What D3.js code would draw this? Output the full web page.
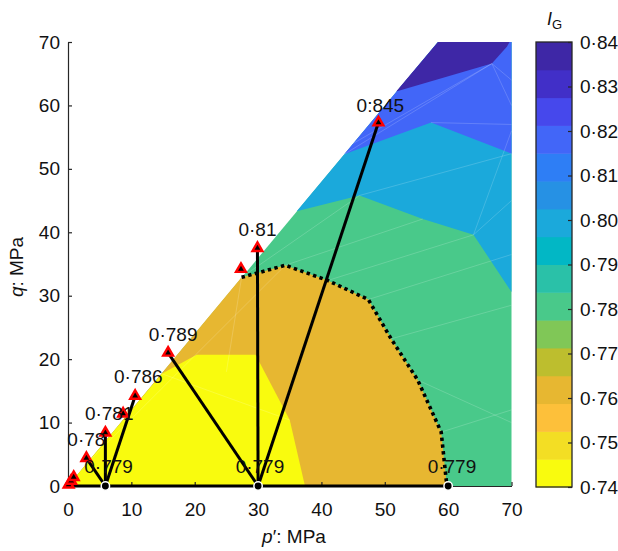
<!DOCTYPE html>
<html><head><meta charset="utf-8">
<script src="https://cdn.jsdelivr.net/npm/d3@7"></script>
<style>body{margin:0;background:#fff}svg{display:block;font-family:Arial,"Liberation Sans",sans-serif}</style>
</head><body><svg id="c" width="618" height="551"></svg>
<script>
// ---------- data ----------
const pTicks = [0, 10, 20, 30, 40, 50, 60, 70];
const qTicks = [0, 10, 20, 30, 40, 50, 60, 70];
const cbarTicks = [0.74, 0.75, 0.76, 0.77, 0.78, 0.79, 0.80, 0.81, 0.82, 0.83, 0.84];
const levels = [0.74, 0.74625, 0.7525, 0.75875, 0.765, 0.77125, 0.7775, 0.78375, 0.79,
                0.79625, 0.8025, 0.80875, 0.815, 0.82125, 0.8275, 0.83375, 0.84];
const bandColors = ["#F9FB0E", "#F3DE24", "#FDC03A", "#E7B731", "#BDBE2E", "#80C757",
                    "#49C98A", "#2AC1A8", "#02B7C5", "#1BA9DB", "#2691E4", "#2E7EF5",
                    "#4266F8", "#4648EC", "#412FC8", "#3E27A6"];
// filled contour regions [p', q] with band index (painted in order)
const regionHull = [[0, 0], [58.4, 70], [70, 70], [70, 0]];
const region076 = [[0, 0], [27.4, 32.9], [34.3, 34.8], [41, 32.4], [47.4, 29.4], [51, 23.2], [55.2, 16.7], [58.9, 8.5], [59.8, 0]];
const region074 = [[0, 0], [14.8, 17.7], [20.3, 20.7], [29.6, 20.7], [35, 10.4], [37.4, 0]];
const region080 = [[36.1, 43.3], [46, 45.8], [56, 42.1], [64, 39.6], [70, 30.6], [70, 70], [58.4, 70]];
const region082 = [[43.6, 52.3], [57.3, 57.3], [70, 52.4], [70, 70], [58.4, 70]];
const region084 = [[51.8, 62.2], [66.9, 66.6], [69.3, 69.3], [69.7, 70], [58.4, 70]];
const regions = [
  {pts: regionHull, band: 6}, {pts: region076, band: 3}, {pts: region074, band: 0},
  {pts: region080, band: 9}, {pts: region082, band: 12}, {pts: region084, band: 15}
];
// faint triangulation edges
const meshEdges = [
  [[27.4, 32.9], [46, 45.8]], [[34.3, 34.8], [56, 42.1]], [[41, 32.4], [64, 39.6]],
  [[47.4, 29.4], [70, 36.5]], [[51, 23.2], [70, 28.5]], [[55.2, 16.7], [70, 10]],
  [[58.9, 8.5], [70, 12]], [[64, 39.6], [70, 45]], [[64, 39.6], [70, 56]],
  [[46, 45.8], [70, 52.4]], [[43.6, 52.3], [66.9, 66.6]], [[45, 54], [66.9, 66.6]],
  [[66.9, 66.6], [70, 60]], [[66.9, 66.6], [70, 64]], [[57.3, 57.3], [70, 57]],
  [[14.8, 17.7], [35, 10.4]], [[3, 3.6], [34.3, 34.8]], [[27.4, 32.9], [25, 18]]
];
// stress paths
const paths = [
  [[0, 0], [60, 0]],
  [[5.9, 0], [5.9, 8.4]], [[5.9, 0], [2.9, 4.4]], [[5.9, 0], [10.6, 14.2]],
  [[30, 0], [15.8, 21]], [[30, 0], [29.9, 37.5]], [[30, 0], [49, 57.3]]
];
const dottedLine = region076.slice(1);
const failurePts = [[0.1, 0.2], [0.5, 0.8], [0.9, 1.4], [2.9, 4.4], [5.9, 8.4], [8.7, 11.4],
                    [10.6, 14.2], [15.8, 21], [27.3, 34.2], [29.9, 37.5], [49, 57.3]];
const startPts = [[5.9, 0], [30, 0], [60, 0]];
const labels = [
  {t: "0·779", p: 6.4, q: 3.15}, {t: "0·78", p: 2.9, q: 7.4}, {t: "0·781", p: 6.5, q: 11.45},
  {t: "0·786", p: 11.1, q: 17.3}, {t: "0·789", p: 16.6, q: 24.0}, {t: "0·779", p: 30.3, q: 3.2},
  {t: "0·779", p: 60.6, q: 3.15}, {t: "0·81", p: 29.9, q: 40.5}, {t: "0:845", p: 49.3, q: 60.1}
];

// ---------- drawing ----------
const svg = d3.select("#c");
const x = d3.scaleLinear().domain([0, 70]).range([68, 511.5]);
const y = d3.scaleLinear().domain([0, 70]).range([486, 42]);
const cy = d3.scaleLinear().domain([0.74, 0.84]).range([487, 42]);
const line = d3.line().x(d => x(d[0])).y(d => y(d[1]));
const FS = 19;

const gR = svg.append("g");
regions.forEach(r => {
  gR.append("path").attr("d", line(r.pts) + "Z").attr("fill", bandColors[r.band]).attr("stroke", "none");
});
gR.selectAll("line.mesh").data(meshEdges).join("line")
  .attr("x1", d => x(d[0][0])).attr("y1", d => y(d[0][1]))
  .attr("x2", d => x(d[1][0])).attr("y2", d => y(d[1][1]))
  .attr("stroke", "#fff").attr("stroke-opacity", 0.25).attr("stroke-width", 0.7);

// axes
const axColor = "#262626";
const gx = svg.append("g").attr("transform", "translate(0,486)")
  .call(d3.axisBottom(x).tickValues(pTicks).tickSizeInner(-4).tickSizeOuter(0).tickPadding(16.5));
const gy = svg.append("g").attr("transform", "translate(68,0)")
  .call(d3.axisLeft(y).tickValues(qTicks).tickSizeInner(-4).tickSizeOuter(0).tickPadding(8));
[gx, gy].forEach(g => {
  g.select(".domain").attr("stroke", axColor).attr("stroke-width", 1.2);
  g.selectAll(".tick line").attr("stroke", axColor).attr("stroke-width", 1.2);
  g.selectAll("text").attr("font-size", FS).attr("fill", "#111").attr("font-family", "Arial, 'Liberation Sans', sans-serif");
});

// stress paths
svg.append("g").selectAll("path").data(paths).join("path")
  .attr("d", d => line(d)).attr("fill", "none").attr("stroke", "#000").attr("stroke-width", 3);
svg.append("path").attr("d", line(dottedLine)).attr("fill", "none")
  .attr("stroke", "#000").attr("stroke-width", 3.6).attr("stroke-dasharray", "3.4,3.4");

// markers
const tri = d3.symbol(d3.symbolTriangle, 42);
svg.append("g").selectAll("path").data(failurePts).join("path")
  .attr("d", tri).attr("transform", d => `translate(${x(d[0])},${y(d[1])})`)
  .attr("fill", "#000").attr("stroke", "#ff0000").attr("stroke-width", 2.4);
svg.append("g").selectAll("circle").data(startPts).join("circle")
  .attr("cx", d => x(d[0])).attr("cy", d => y(d[1])).attr("r", 4.2)
  .attr("fill", "#000").attr("stroke", "#fff").attr("stroke-width", 1.5);

// labels
svg.append("g").selectAll("text").data(labels).join("text")
  .attr("x", d => x(d.p)).attr("y", d => y(d.q) + 6.8)
  .attr("text-anchor", "middle").attr("font-size", FS).attr("fill", "#111").text(d => d.t);

// axis titles
const xt = svg.append("text").attr("x", 294).attr("y", 543).attr("text-anchor", "middle").attr("font-size", FS).attr("fill", "#111");
xt.append("tspan").attr("font-style", "italic").text("p");
xt.append("tspan").text("′: MPa");
const yt = svg.append("text").attr("transform", "translate(23,267) rotate(-90)").attr("text-anchor", "middle").attr("font-size", FS).attr("fill", "#111");
yt.append("tspan").attr("font-style", "italic").text("q");
yt.append("tspan").text(": MPa");

// colorbar
const cbX = 536, cbW = 36;
const gc = svg.append("g");
gc.selectAll("rect").data(d3.range(bandColors.length)).join("rect")
  .attr("x", cbX).attr("width", cbW)
  .attr("y", i => cy(levels[i + 1])).attr("height", i => cy(levels[i]) - cy(levels[i + 1]) + 0.5)
  .attr("fill", i => bandColors[i]);
gc.append("rect").attr("x", cbX).attr("y", cy(0.84)).attr("width", cbW).attr("height", cy(0.74) - cy(0.84))
  .attr("fill", "none").attr("stroke", axColor).attr("stroke-width", 1.3);
const gca = gc.append("g").attr("transform", `translate(${cbX + cbW},0)`)
  .call(d3.axisRight(cy).tickValues(cbarTicks).tickSizeInner(-4).tickSizeOuter(0).tickPadding(8)
    .tickFormat(d => d.toFixed(2).replace(".", "·")));
gca.select(".domain").remove();
gca.selectAll(".tick line").attr("stroke", axColor).attr("stroke-width", 1.2);
gca.selectAll("text").attr("font-size", FS).attr("fill", "#111").attr("font-family", "Arial, 'Liberation Sans', sans-serif");
const ct = svg.append("text").attr("x", 547).attr("y", 25).attr("font-size", 18).attr("fill", "#111");
ct.append("tspan").attr("font-style", "italic").text("I");
ct.append("tspan").attr("font-size", 13).attr("dy", 4).text("G");
</script></body></html>
